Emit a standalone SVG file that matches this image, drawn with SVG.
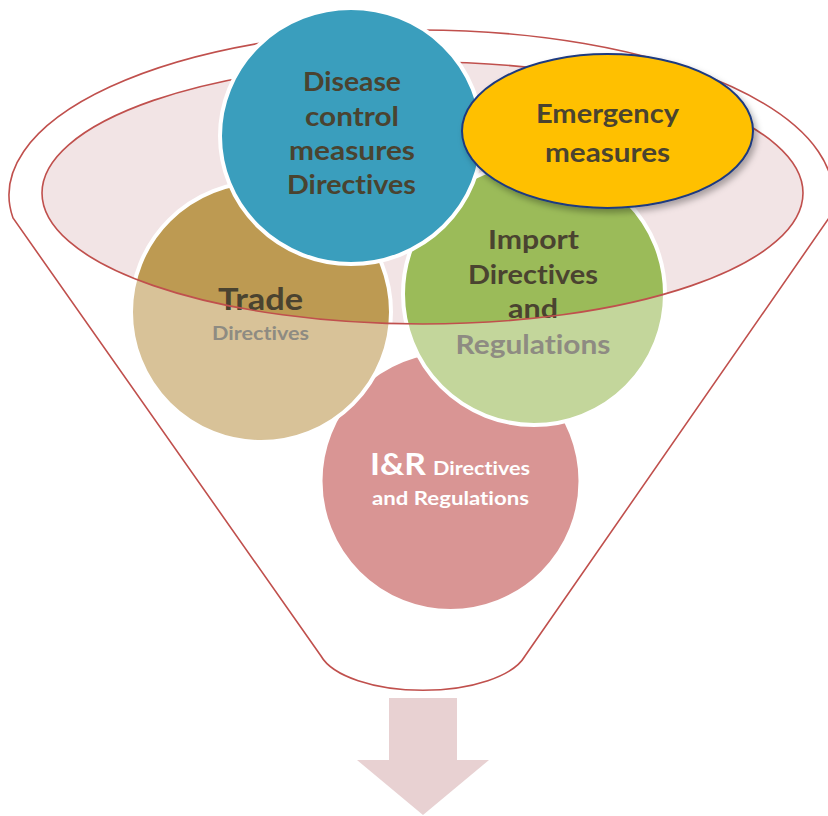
<svg xmlns="http://www.w3.org/2000/svg" width="828" height="816" viewBox="0 0 828 816">
  <style>
    .lbl { font-family: Lato, "Open Sans", "Liberation Sans", sans-serif; font-weight: 700; text-anchor: middle; font-variant-ligatures: none; font-feature-settings: "liga" 0, "clig" 0; }
    .dark { fill: #4A4330; }
    .grey { fill: #8E8B82; }
    .white { fill: #FFFFFF; }
    .big { font-size: 26px; }
    .small { font-size: 18px; }
    .rim { fill: none; stroke: #C0504D; stroke-width: 1.6; }
    .ring { fill: none; stroke: #FFFFFF; stroke-width: 4; }
  </style>
  <defs>
    <clipPath id="innerClip">
      <ellipse cx="422.5" cy="193" rx="380.5" ry="131"/>
    </clipPath>
    <filter id="shadow" x="-20%" y="-20%" width="140%" height="150%">
      <feDropShadow dx="3" dy="4" stdDeviation="3" flood-color="#000000" flood-opacity="0.3"/>
    </filter>
  </defs>
  <rect width="828" height="816" fill="#FFFFFF"/>

  <g id="funnel">
    <path class="rim" d="M 13 218 A 412 165 0 1 1 829 218 L 525 656 A 105 45 0 0 1 321 656 Z"/>
    <ellipse cx="422.5" cy="193" rx="380.5" ry="131" fill="#F2E4E5"/>
  </g>

  <g id="ir">
    <circle cx="450.5" cy="481" r="130" fill="#D99594"/>
    <circle class="ring" cx="450.5" cy="481" r="130"/>
    <text class="lbl white" x="370" y="475" font-size="30" textLength="56" lengthAdjust="spacingAndGlyphs" style="text-anchor:start">I&amp;R</text>
    <text class="lbl white small" x="433" y="475" textLength="97" lengthAdjust="spacingAndGlyphs" style="text-anchor:start">Directives</text>
    <text class="lbl white small" x="372" y="505" textLength="157" lengthAdjust="spacingAndGlyphs" style="text-anchor:start">and Regulations</text>
  </g>

  <g id="trade">
    <circle cx="261" cy="312" r="130" fill="#D8C298"/>
    <circle cx="261" cy="312" r="130" fill="#BD9A52" clip-path="url(#innerClip)"/>
    <circle class="ring" cx="261" cy="312" r="130"/>
    <text class="lbl dark" x="260.5" y="310" font-size="31" textLength="85" lengthAdjust="spacingAndGlyphs">Trade</text>
    <text class="lbl grey small" x="260.5" y="340" textLength="97" lengthAdjust="spacingAndGlyphs">Directives</text>
  </g>

  <g id="import">
    <circle cx="534" cy="294" r="131" fill="#C3D69B"/>
    <circle cx="534" cy="294" r="131" fill="#9BBB59" clip-path="url(#innerClip)"/>
    <circle class="ring" cx="534" cy="294" r="131"/>
    <text class="lbl dark big" x="533.5" y="249" textLength="91" lengthAdjust="spacingAndGlyphs">Import</text>
    <text class="lbl dark big" x="533" y="284" textLength="130" lengthAdjust="spacingAndGlyphs">Directives</text>
    <text class="lbl dark big" x="533" y="318" textLength="50" lengthAdjust="spacingAndGlyphs">and</text>
    <text class="lbl grey big" x="533" y="354" textLength="155" lengthAdjust="spacingAndGlyphs">Regulations</text>
  </g>

  <g id="funnel-rim">
    <ellipse class="rim" cx="422.5" cy="193" rx="380.5" ry="131"/>
  </g>

  <g id="disease">
    <ellipse cx="351" cy="136" rx="131" ry="128" fill="#3A9EBD"/>
    <ellipse class="ring" cx="351" cy="136" rx="131" ry="128"/>
    <text class="lbl dark big" x="352" y="91" textLength="98" lengthAdjust="spacingAndGlyphs">Disease</text>
    <text class="lbl dark big" x="352" y="126" textLength="94" lengthAdjust="spacingAndGlyphs">control</text>
    <text class="lbl dark big" x="352" y="160" textLength="126" lengthAdjust="spacingAndGlyphs">measures</text>
    <text class="lbl dark big" x="351.5" y="194" textLength="129" lengthAdjust="spacingAndGlyphs">Directives</text>
  </g>

  <g id="emergency">
    <ellipse cx="607.5" cy="131" rx="145.5" ry="77" fill="#FFC000" stroke="#1F3A80" stroke-width="2" filter="url(#shadow)"/>
    <text class="lbl dark big" x="607.5" y="123" textLength="143" lengthAdjust="spacingAndGlyphs">Emergency</text>
    <text class="lbl dark big" x="607.5" y="162" textLength="125" lengthAdjust="spacingAndGlyphs">measures</text>
  </g>

  <g id="connectors">
    <path d="M 389 698 L 457 698 L 457 760 L 489 760 L 423 815 L 357 760 L 389 760 Z" fill="#E8D1D2"/>
  </g>
</svg>
